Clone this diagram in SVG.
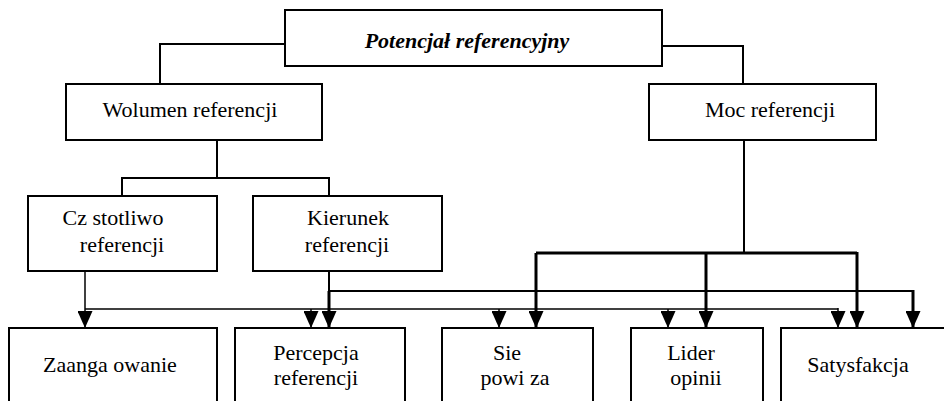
<svg xmlns="http://www.w3.org/2000/svg" width="944" height="401" viewBox="0 0 944 401">
<style>
.box{fill:#fff;stroke:#000;stroke-width:2}
text{font-family:'Liberation Serif','DejaVu Serif',serif;font-size:22px;fill:#000;text-anchor:middle}
.tb{font-weight:bold;font-style:italic}
.c{fill:none;stroke:#000}
.w1{stroke-width:1.5}
.w2{stroke-width:2}
.w3{stroke-width:3}
</style>
<defs>
<marker id="ah" markerUnits="userSpaceOnUse" viewBox="0 -7.5 17 15" refX="17" refY="0" markerWidth="17" markerHeight="15" orient="auto">
<path d="M0,-7.5 L17,0 L0,7.5 z" fill="#000"/>
</marker>
</defs>
<rect width="944" height="401" fill="#fff"/>
<g id="connectors">
<polyline class="c w2" points="285,44 160,44 160,84"/>
<polyline class="c w2" points="662,46 743,46 743,84"/>
<line class="c w2" x1="217" y1="140" x2="217" y2="178"/>
<polyline class="c w2" points="122,196 122,178 329,178 329,196"/>
<line class="c w2" x1="744" y1="140" x2="744" y2="253"/>
<line class="c w3" x1="536" y1="253" x2="857" y2="253"/>
<line class="c w3" x1="536" y1="253" x2="536" y2="328" marker-end="url(#ah)"/>
<line class="c w3" x1="706" y1="253" x2="706" y2="328" marker-end="url(#ah)"/>
<line class="c w3" x1="857" y1="252" x2="857" y2="328" marker-end="url(#ah)"/>
<line class="c w2" x1="329" y1="271" x2="329" y2="291"/>
<line class="c w2" x1="329" y1="291" x2="913" y2="291"/>
<line class="c w3" x1="329" y1="291" x2="329" y2="328" marker-end="url(#ah)"/>
<line class="c w3" x1="913" y1="290" x2="913" y2="328" marker-end="url(#ah)"/>
<line class="c w1" x1="85" y1="271" x2="85" y2="328" marker-end="url(#ah)"/>
<line class="c w1" x1="85" y1="309" x2="838" y2="309"/>
<line class="c w1" x1="311" y1="309" x2="311" y2="328" marker-end="url(#ah)"/>
<line class="c w1" x1="499" y1="309" x2="499" y2="328" marker-end="url(#ah)"/>
<line class="c w1" x1="668" y1="309" x2="668" y2="328" marker-end="url(#ah)"/>
<line class="c w1" x1="838" y1="308" x2="838" y2="328" marker-end="url(#ah)"/>
</g>
<g id="potencjal">
<rect class="box" x="285" y="10" width="377" height="56"/>
<text class="tb" x="467" y="48" font-family="Liberation Serif, serif">Potencjał referencyjny</text>
</g>
<g id="wolumen">
<rect class="box" x="66" y="84" width="256" height="56"/>
<text x="190" y="117" font-family="Liberation Serif, serif">Wolumen referencji</text>
</g>
<g id="moc">
<rect class="box" x="649" y="84" width="227" height="56"/>
<text x="770" y="117" font-family="Liberation Serif, serif">Moc referencji</text>
</g>
<g id="czestotliwosc">
<rect class="box" x="28" y="196" width="189" height="75"/>
<text x="113" y="225" font-family="Liberation Serif, serif">Cz stotliwo</text>
<text x="122" y="252" font-family="Liberation Serif, serif">referencji</text>
</g>
<g id="kierunek">
<rect class="box" x="253" y="196" width="189" height="75"/>
<text x="348" y="225" font-family="Liberation Serif, serif">Kierunek</text>
<text x="347" y="252" font-family="Liberation Serif, serif">referencji</text>
</g>
<g id="zaangazowanie">
<rect class="box" x="9" y="328" width="208" height="85"/>
<text x="110" y="372" font-family="Liberation Serif, serif">Zaanga owanie</text>
</g>
<g id="percepcja">
<rect class="box" x="235" y="328" width="170" height="85"/>
<text x="316" y="360" font-family="Liberation Serif, serif">Percepcja</text>
<text x="316" y="385" font-family="Liberation Serif, serif">referencji</text>
</g>
<g id="siec">
<rect class="box" x="442" y="328" width="151" height="85"/>
<text x="507" y="360" font-family="Liberation Serif, serif">Sie</text>
<text x="515" y="385" font-family="Liberation Serif, serif">powi za</text>
</g>
<g id="lider">
<rect class="box" x="631" y="328" width="132" height="85"/>
<text x="691" y="360" font-family="Liberation Serif, serif">Lider</text>
<text x="696" y="385" font-family="Liberation Serif, serif">opinii</text>
</g>
<g id="satysfakcja">
<rect class="box" x="781" y="328" width="180" height="85"/>
<text x="858" y="372" font-family="Liberation Serif, serif">Satysfakcja</text>
</g>
</svg>
